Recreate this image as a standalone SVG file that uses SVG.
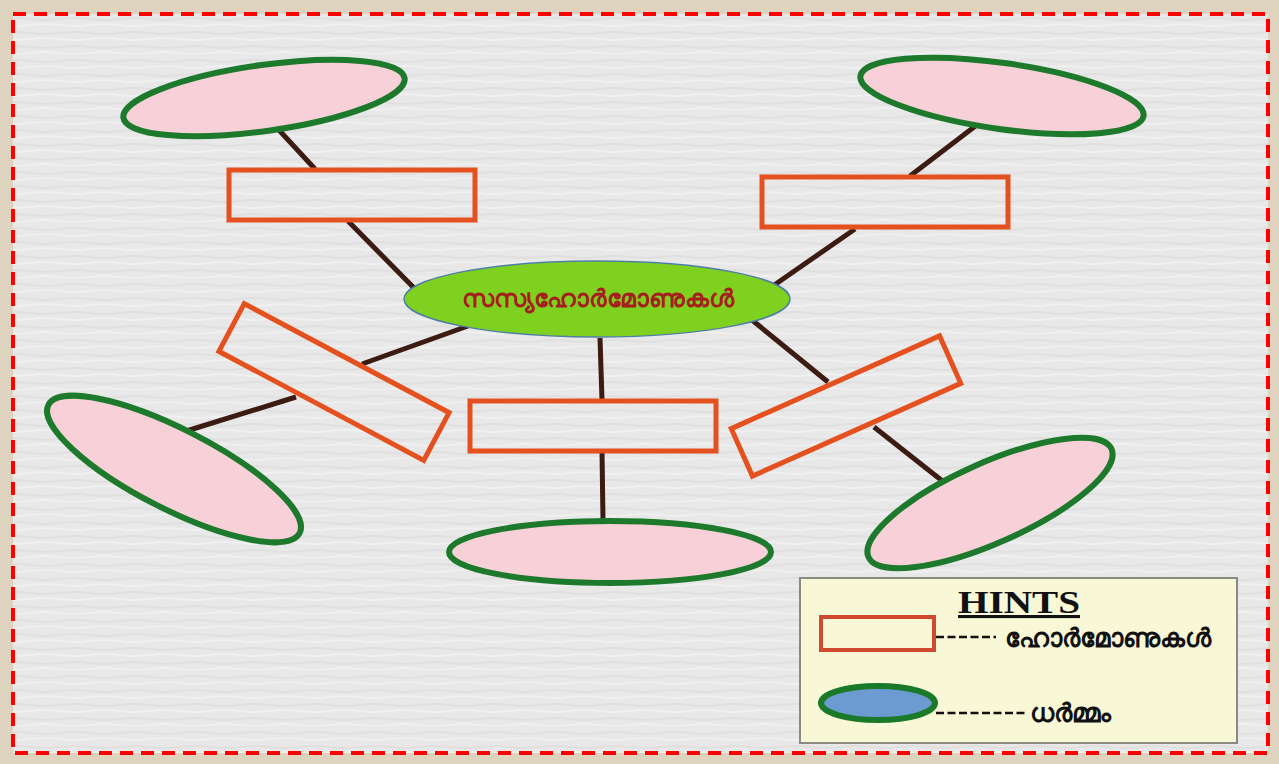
<svg xmlns="http://www.w3.org/2000/svg" width="1279" height="764" viewBox="0 0 1279 764">
<defs>
<style>
.leaf{fill:#f7d1d7;stroke:#1d7a2c;stroke-width:6}
.box{fill:none;stroke:#e4511f;stroke-width:5}
.con{stroke:#3b1b12;stroke-width:5;stroke-linecap:butt}
.ml{font-family:"Noto Sans","DejaVu Sans",sans-serif;font-weight:bold}
.dash{stroke:#111;stroke-width:2.5;stroke-dasharray:8,3.5}
</style>
<pattern id="tex" width="60" height="14" patternUnits="userSpaceOnUse">
<rect width="60" height="14" fill="#e8e8e8"/>
<path d="M0 5 Q15 3 30 5 T60 5" stroke="#e0e0e0" stroke-width="2" fill="none"/>
<path d="M0 11 Q15 13 30 11 T60 11" stroke="#f0f0f0" stroke-width="2" fill="none"/>
</pattern>
</defs>
<rect width="1279" height="764" fill="#ddd3bf"/>
<rect x="13" y="14" width="1255" height="739" fill="url(#tex)"/>
<rect x="13" y="14" width="1255" height="739" fill="none" stroke="#ff0000" stroke-width="4" stroke-dasharray="13,8"/>

<g id="connectors">
<line class="con" x1="278" y1="129" x2="315" y2="169"/>
<line class="con" x1="348" y1="221" x2="416" y2="290" stroke="#4a1838"/>
<line class="con" x1="978" y1="124" x2="910" y2="176"/>
<line class="con" x1="855" y1="229" x2="770" y2="288"/>
<line class="con" x1="468" y1="326" x2="362" y2="364"/>
<line class="con" x1="296" y1="397" x2="180" y2="433"/>
<line class="con" x1="600" y1="338" x2="602" y2="400"/>
<line class="con" x1="602" y1="451" x2="603" y2="520"/>
<line class="con" x1="752" y1="320" x2="828" y2="382"/>
<line class="con" x1="874" y1="427" x2="950" y2="487"/>
</g>

<g id="leaf-tl"><ellipse class="leaf" cx="264" cy="98" rx="142" ry="33" transform="rotate(-8 264 98)"/></g>
<g id="leaf-tr"><ellipse class="leaf" cx="1002" cy="96" rx="143" ry="33" transform="rotate(8 1002 96)"/></g>
<g id="leaf-bl"><ellipse class="leaf" cx="174" cy="469" rx="141" ry="40" transform="rotate(27 174 469)"/></g>
<g id="leaf-b"><ellipse class="leaf" cx="610" cy="552" rx="161" ry="31"/></g>
<g id="leaf-br"><ellipse class="leaf" cx="990" cy="503" rx="133" ry="40" transform="rotate(-24 990 503)"/></g>

<g id="box-tl"><rect class="box" x="229" y="170" width="246" height="50"/></g>
<g id="box-tr"><rect class="box" x="762" y="177" width="246" height="50"/></g>
<g id="box-b"><rect class="box" x="470" y="401" width="246" height="50"/></g>
<g id="box-l"><rect class="box" x="218" y="355" width="232" height="54" transform="rotate(28 334 382)"/></g>
<g id="box-r"><rect class="box" x="732" y="380" width="228" height="52" transform="rotate(-24 846 406)"/></g>

<g id="center">
<ellipse cx="597" cy="299" rx="193" ry="38" fill="#7fd11f" stroke="#4f7fa6" stroke-width="1.5"/>
<text class="ml" x="598" y="307" font-size="25" fill="#a51f1f" text-anchor="middle">സസ്യഹോർമോണുകൾ</text>
</g>

<g id="legend">
<rect x="800" y="578" width="437" height="165" fill="#f8f7d6" stroke="#8a8a80" stroke-width="2"/>
<text x="958" y="613" font-family="Liberation Serif,serif" font-weight="bold" font-size="31" fill="#111" textLength="122" lengthAdjust="spacingAndGlyphs" text-decoration="underline">HINTS</text>
<rect x="821" y="617" width="113" height="33" fill="none" stroke="#cf4a2e" stroke-width="4"/>
<line class="dash" x1="936" y1="637" x2="996" y2="637"/>
<text class="ml" x="1005" y="647" font-size="26" fill="#111">ഹോർമോണുകൾ</text>
<ellipse cx="878" cy="703" rx="57" ry="17" fill="#6b9bd1" stroke="#1a7a2a" stroke-width="6"/>
<line class="dash" x1="936" y1="713" x2="1028" y2="713"/>
<text class="ml" x="1030" y="722" font-size="26" fill="#111">ധർമ്മം</text>
</g>
</svg>
